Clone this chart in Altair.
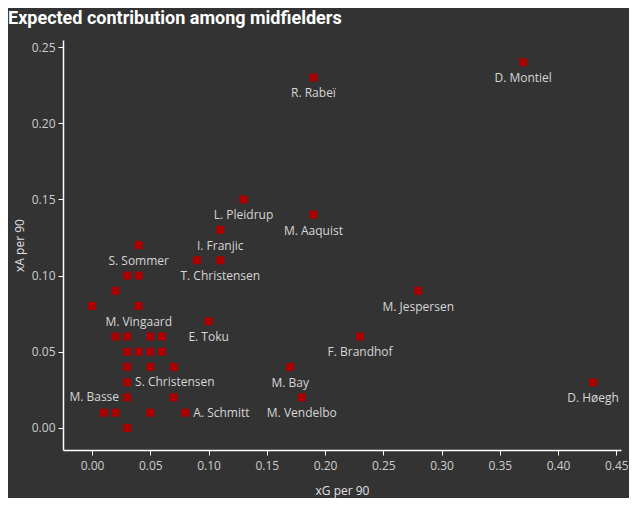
import altair as alt
import pandas as pd

xg = [0.19, 0.37, 0.13, 0.19, 0.11, 0.09, 0.11, 0.04, 0.03, 0.04,
      0.02, 0.00, 0.04, 0.10, 0.02, 0.03, 0.05, 0.06, 0.03, 0.04,
      0.05, 0.06, 0.03, 0.05, 0.07, 0.03, 0.03, 0.07, 0.01, 0.02,
      0.05, 0.08, 0.03, 0.17, 0.18, 0.23, 0.28, 0.43]
xa = [0.23, 0.24, 0.15, 0.14, 0.13, 0.11, 0.11, 0.12, 0.10, 0.10,
      0.09, 0.08, 0.08, 0.07, 0.06, 0.06, 0.06, 0.06, 0.05, 0.05,
      0.05, 0.05, 0.04, 0.04, 0.04, 0.03, 0.02, 0.02, 0.01, 0.01,
      0.01, 0.01, 0.00, 0.04, 0.02, 0.06, 0.09, 0.03]
names = ["R. Rabeï", "D. Montiel", "L. Pleidrup", "M. Aaquist", "I. Franjic", "", "T. Christensen", "S. Sommer", "", "",
         "", "", "M. Vingaard", "E. Toku", "", "", "", "", "", "",
         "", "", "", "", "", "S. Christensen", "M. Basse", "", "", "",
         "", "A. Schmitt", "", "M. Bay", "M. Vendelbo", "F. Brandhof", "M. Jespersen", "D. Høegh"]
label_side = ["below", "below", "below", "below", "below", "", "below", "below", "", "",
              "", "", "below", "below", "", "", "", "", "", "",
              "", "", "", "", "", "right", "left", "", "", "",
              "", "right", "", "below", "below", "below", "below", "below"]

df = pd.DataFrame({"xg": xg, "xa": xa, "name": names, "side": label_side})

LABEL_FONT = "Open Sans"
x = alt.X("xg:Q", title="xG per 90", scale=alt.Scale(domain=[-0.025, 0.454], nice=False, zero=False),
          axis=alt.Axis(values=[0, 0.05, 0.1, 0.15, 0.2, 0.25, 0.3, 0.35, 0.4, 0.45], format=".2f"))
y = alt.Y("xa:Q", title="xA per 90", scale=alt.Scale(domain=[-0.0145, 0.2546], nice=False, zero=False),
          axis=alt.Axis(values=[0, 0.05, 0.1, 0.15, 0.2, 0.25], format=".2f"))

base = alt.Chart(df)
points = base.mark_point(shape="square", filled=True, size=64, color="#aa0000", opacity=1).encode(x=x, y=y)

txt = dict(font=LABEL_FONT, fontSize=12, color="#d6d6d6", baseline="middle")
below = base.transform_filter(alt.datum.side == "below").mark_text(
    align="center", dy=16, **txt).encode(x=x, y=y, text="name:N")
right = base.transform_filter(alt.datum.side == "right").mark_text(
    align="left", dx=8, **txt).encode(x=x, y=y, text="name:N")
left = base.transform_filter(alt.datum.side == "left").mark_text(
    align="right", dx=-8, **txt).encode(x=x, y=y, text="name:N")

chart = alt.layer(points, below, right, left).properties(
    width=558, height=410,
    title=alt.TitleParams("Expected contribution among midfielders", anchor="start", frame="group",
                          dx=-55, offset=12, fontSize=18, font="Roboto",
                          fontWeight="bold", color="#ffffff"),
    autosize=alt.AutoSizeParams(type="none"),
    padding={"left": 55, "top": 32, "right": 8, "bottom": 48},
    background="#333333",
).configure_view(stroke=None).configure_axis(
    grid=False, domainColor="#ffffff", tickColor="#ffffff", domainWidth=1.5, tickSize=5,
    labelColor="#cccccc", labelFont=LABEL_FONT, labelFontSize=12,
    titleColor="#e0e0e0", titleFont=LABEL_FONT, titleFontSize=12, titleFontWeight="normal",
).configure_axisY(titlePadding=5, labelPadding=3).configure_axisX(titlePadding=14, labelPadding=5)

chart.save("out.html", embed_options={"renderer": "svg", "actions": False})
